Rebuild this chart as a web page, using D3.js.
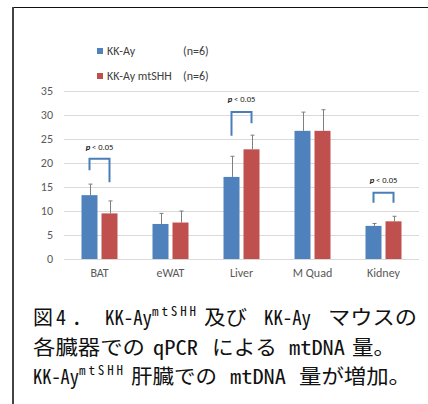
<!DOCTYPE html>
<html><head><meta charset="utf-8">
<script src="https://cdn.jsdelivr.net/npm/d3@7/dist/d3.min.js"></script>
<style>html,body{margin:0;padding:0;background:#fff;}svg{display:block;}</style>
</head><body>
<script>
const categories = ["BAT", "eWAT", "Liver", "M Quad", "Kidney"];
const seriesNames = ["KK-Ay", "KK-Ay mtSHH"];
const seriesN = ["(n=6)", "(n=6)"];
const kkAy = [13.3, 7.3, 17.1, 26.7, 6.9];
const kkAyErr = [2.3, 2.2, 4.3, 3.9, 0.5];
const kkAyMt = [9.5, 7.6, 22.85, 26.7, 7.85];
const kkAyMtErr = [2.6, 2.4, 2.95, 4.4, 1.05];
const yTicks = [0, 5, 10, 15, 20, 25, 30, 35];
// significance brackets: category, top value, left leg end, right leg end, label value
const sigCats = ["BAT", "Liver", "Kidney"];
const sigTop = [20.9, 30.6, 13.8];
const sigLeft = [18.5, 25.7, 11.7];
const sigRight = [16.0, 28.3, 11.7];
const sigLabelY = [22.8, 32.7, 15.8];
// caption segments: [text, superscript?]
const captionLine1 = [["図", 0], ["4", 0], ["．", 0], ["KK-Ay", 0], ["mtSHH", 1], ["及び", 0], ["KK-Ay", 0], ["マウスの", 0]];
const captionLine2 = [["各臓器での", 0], ["qPCR", 0], ["による", 0], ["mtDNA", 0], ["量。", 0]];
const captionLine3 = [["KK-Ay", 0], ["mtSHH", 1], ["肝臓での", 0], ["mtDNA", 0], ["量が増加。", 0]];

const W = 428, H = 404;
const colors = ["#4F81BD", "#C0504D"];
const svg = d3.select("body").append("svg").attr("width", W).attr("height", H);
svg.append("rect").attr("width", W).attr("height", H).attr("fill", "#fff");

// frame
svg.append("line").attr("x1", 12).attr("x2", W).attr("y1", 7.5).attr("y2", 7.5)
  .attr("stroke", "#111").attr("stroke-width", 1.2);
svg.append("line").attr("x1", 13).attr("x2", 13).attr("y1", 7).attr("y2", H)
  .attr("stroke", "#444").attr("stroke-width", 2);

const chartFont = "Carlito, Lato, 'Liberation Sans', sans-serif";
const x0 = d3.scaleBand().domain(categories).range([64, 419]);
const x1 = d3.scaleBand().domain([0, 1]).range([0, x0.bandwidth()]).paddingInner(0.2).paddingOuter(0.875);
const y = d3.scaleLinear().domain([0, 35]).range([259, 91]);

// grid
const yAxis = d3.axisLeft(y).tickValues(yTicks).tickSize(-(419 - 64)).tickPadding(11);
const gy = svg.append("g").attr("transform", "translate(64,0)").call(yAxis);
gy.select(".domain").remove();
gy.selectAll(".tick line").attr("stroke", "#D9D9D9").attr("stroke-width", 1);
gy.selectAll(".tick text").attr("fill", "#595959").style("font-family", chartFont).style("font-size", "12px");

// x axis labels
const xAxis = d3.axisBottom(x0).tickSize(0).tickPadding(9);
const gx = svg.append("g").attr("transform", "translate(0,259)").call(xAxis);
gx.select(".domain").remove();
gx.selectAll(".tick text").attr("fill", "#595959").style("font-family", chartFont).style("font-size", "12px");

// bars
const vals = [kkAy, kkAyMt], errs = [kkAyErr, kkAyMtErr];
vals.forEach((arr, s) => {
  const g = svg.append("g");
  g.selectAll("rect").data(arr).join("rect")
    .attr("x", (d, i) => x0(categories[i]) + x1(s))
    .attr("width", x1.bandwidth())
    .attr("y", d => y(d))
    .attr("height", d => y(0) - y(d))
    .attr("fill", colors[s]);
  const eg = svg.append("g").attr("stroke", "#7F7F7F").attr("stroke-width", 1);
  arr.forEach((d, i) => {
    const cx = Math.round(x0(categories[i]) + x1(s) + x1.bandwidth() / 2) + 0.5;
    eg.append("line").attr("x1", cx).attr("x2", cx).attr("y1", y(d)).attr("y2", y(d + errs[s][i]));
    eg.append("line").attr("x1", cx - 2).attr("x2", cx + 2).attr("y1", y(d + errs[s][i])).attr("y2", y(d + errs[s][i]));
  });
});

// significance brackets
sigCats.forEach((c, i) => {
  const xl = x0(c) + x1(0) + x1.bandwidth() / 2;
  const xr = x0(c) + x1(1) + x1.bandwidth() / 2;
  svg.append("path")
    .attr("d", `M${xl},${y(sigLeft[i])}V${y(sigTop[i])}H${xr}V${y(sigRight[i])}`)
    .attr("fill", "none").attr("stroke", "#4A7EBB").attr("stroke-width", 2);
  const t = svg.append("text").attr("x", (xl + xr) / 2).attr("y", y(sigLabelY[i]))
    .attr("text-anchor", "middle").attr("fill", "#222")
    .style("font-family", chartFont).style("font-size", "8.5px");
  t.append("tspan").attr("font-style", "italic").attr("font-weight", "bold").text("p");
  t.append("tspan").text(" < 0.05");
});

// legend
const legY = [51, 76];
seriesNames.forEach((n, i) => {
  svg.append("rect").attr("x", 97).attr("y", legY[i] - 3).attr("width", 6).attr("height", 6).attr("fill", colors[i]);
  svg.append("text").attr("x", 107).attr("y", legY[i] + 4).attr("fill", "#404040")
    .style("font-family", chartFont).style("font-size", "12px").text(n);
  svg.append("text").attr("x", 183).attr("y", legY[i] + 4).attr("fill", "#404040")
    .style("font-family", chartFont).style("font-size", "12px").text(seriesN[i]);
});

// caption layout (positions, widths)
const capFont = "'Noto Sans Mono CJK JP', 'Noto Sans CJK JP', sans-serif";
const capLayout = [
  { base: 325, lines: captionLine1, x: [33, 56, 72, 105, 152, 204, 264, 328], w: [0, 0, 0, 47, 44, 43, 47, 89] },
  { base: 355, lines: captionLine2, x: [33, 153, 212, 289, 352], w: [112, 45, 65, 56, 43] },
  { base: 384, lines: captionLine3, x: [33, 79, 131, 230, 299], w: [46, 44, 86, 56, 112] }
];
capLayout.forEach(L => {
  L.lines.forEach(([s, sup], k) => {
    const t = svg.append("text").attr("x", L.x[k]).attr("y", sup ? L.base - 9 : L.base)
      .attr("fill", "#111").style("font-family", capFont)
      .style("font-size", sup ? "13px" : "20px").text(s);
    if (L.w[k]) t.attr("textLength", L.w[k]).attr("lengthAdjust", sup ? "spacing" : "spacingAndGlyphs");
  });
});
</script>
</body></html>
